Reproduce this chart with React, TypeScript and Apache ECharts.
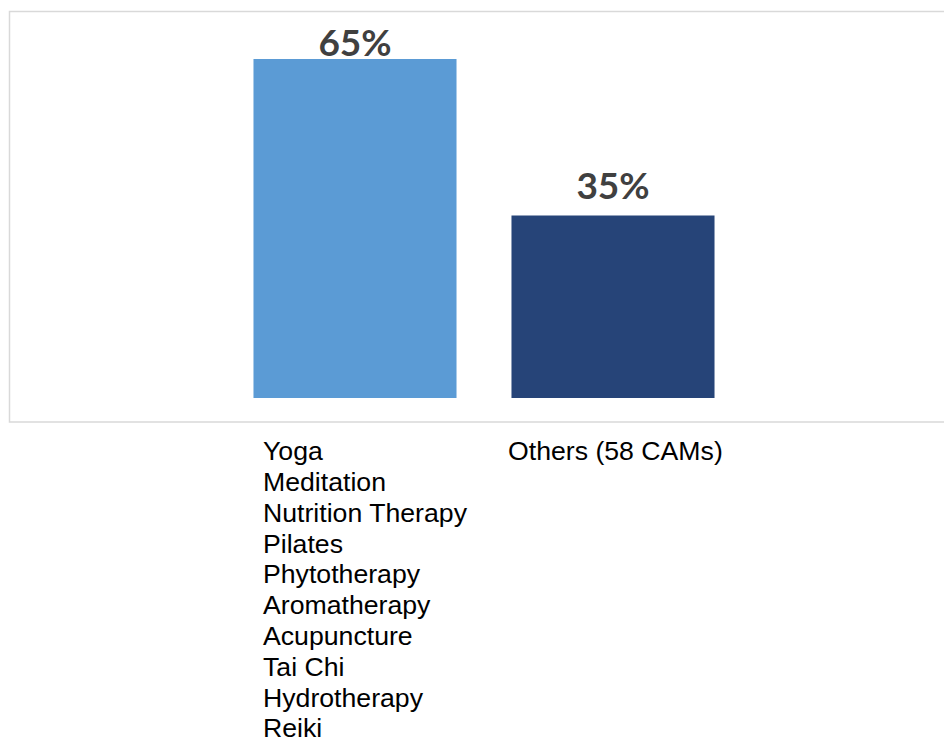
import React, { useEffect, useRef } from "react";
import * as echarts from "echarts";

const categories: string[][] = [
  [
    "Yoga",
    "Meditation",
    "Nutrition Therapy",
    "Pilates",
    "Phytotherapy",
    "Aromatherapy",
    "Acupuncture",
    "Tai Chi",
    "Hydrotherapy",
    "Reiki",
  ],
  ["Others (58 CAMs)"],
];
const values: number[] = [65, 35];
const barColors: string[] = ["#5B9BD5", "#264478"];
const labelDistances: number[] = [-1, 12];
const labelBlockWidths: number[] = [184, 210];

export default function App() {
  const ref = useRef<HTMLDivElement>(null);
  useEffect(() => {
    if (!ref.current) return;
    const chart = echarts.init(ref.current, null, { renderer: "svg" });
    const catKeys = categories.map((_, i) => "c" + i);
    const rich: Record<string, any> = {};
    catKeys.forEach((k, i) => {
      rich[k] = {
        width: labelBlockWidths[i],
        align: "left",
        fontFamily: "Liberation Sans, Arial, sans-serif",
        fontSize: 26.67,
        lineHeight: 30.8,
        color: "#000000",
      };
    });
    chart.setOption({
      animation: false,
      backgroundColor: "#ffffff",
      graphic: [
        {
          type: "rect",
          shape: { x: 9.5, y: 11.5, width: 945, height: 410.5 },
          style: { fill: "none", stroke: "#d9d9d9", lineWidth: 1.5 },
          silent: true,
          z: -1,
        },
      ],
      grid: { left: 226, width: 516, top: 33, height: 367, containLabel: false },
      xAxis: {
        type: "category",
        data: categories.map((c) => c.join("\n")),
        axisLine: { show: false },
        axisTick: { show: false },
        axisLabel: {
          interval: 0,
          margin: 38,
          verticalAlign: "top",
          formatter: (value: string, index: number) =>
            value
              .split("\n")
              .map((l) => "{" + catKeys[index] + "|" + l + "}")
              .join("\n"),
          rich,
        },
      },
      yAxis: {
        type: "value",
        min: 0,
        max: 70,
        show: false,
        splitLine: { show: false },
      },
      series: [
        {
          type: "bar",
          barWidth: "78.7%",
          data: values.map((v, i) => ({
            value: v,
            itemStyle: { color: barColors[i] },
            label: { distance: labelDistances[i] },
          })),
          label: {
            show: true,
            position: "top",
            formatter: "{c}%",
            fontFamily: "Lato, sans-serif",
            fontWeight: "bold",
            fontSize: 37,
            color: "#404040",
          },
        },
      ],
    });
    return () => chart.dispose();
  }, []);
  return (
    <div
      ref={ref}
      style={{ position: "fixed", left: 0, top: 0, width: 944, height: 742 }}
    />
  );
}
